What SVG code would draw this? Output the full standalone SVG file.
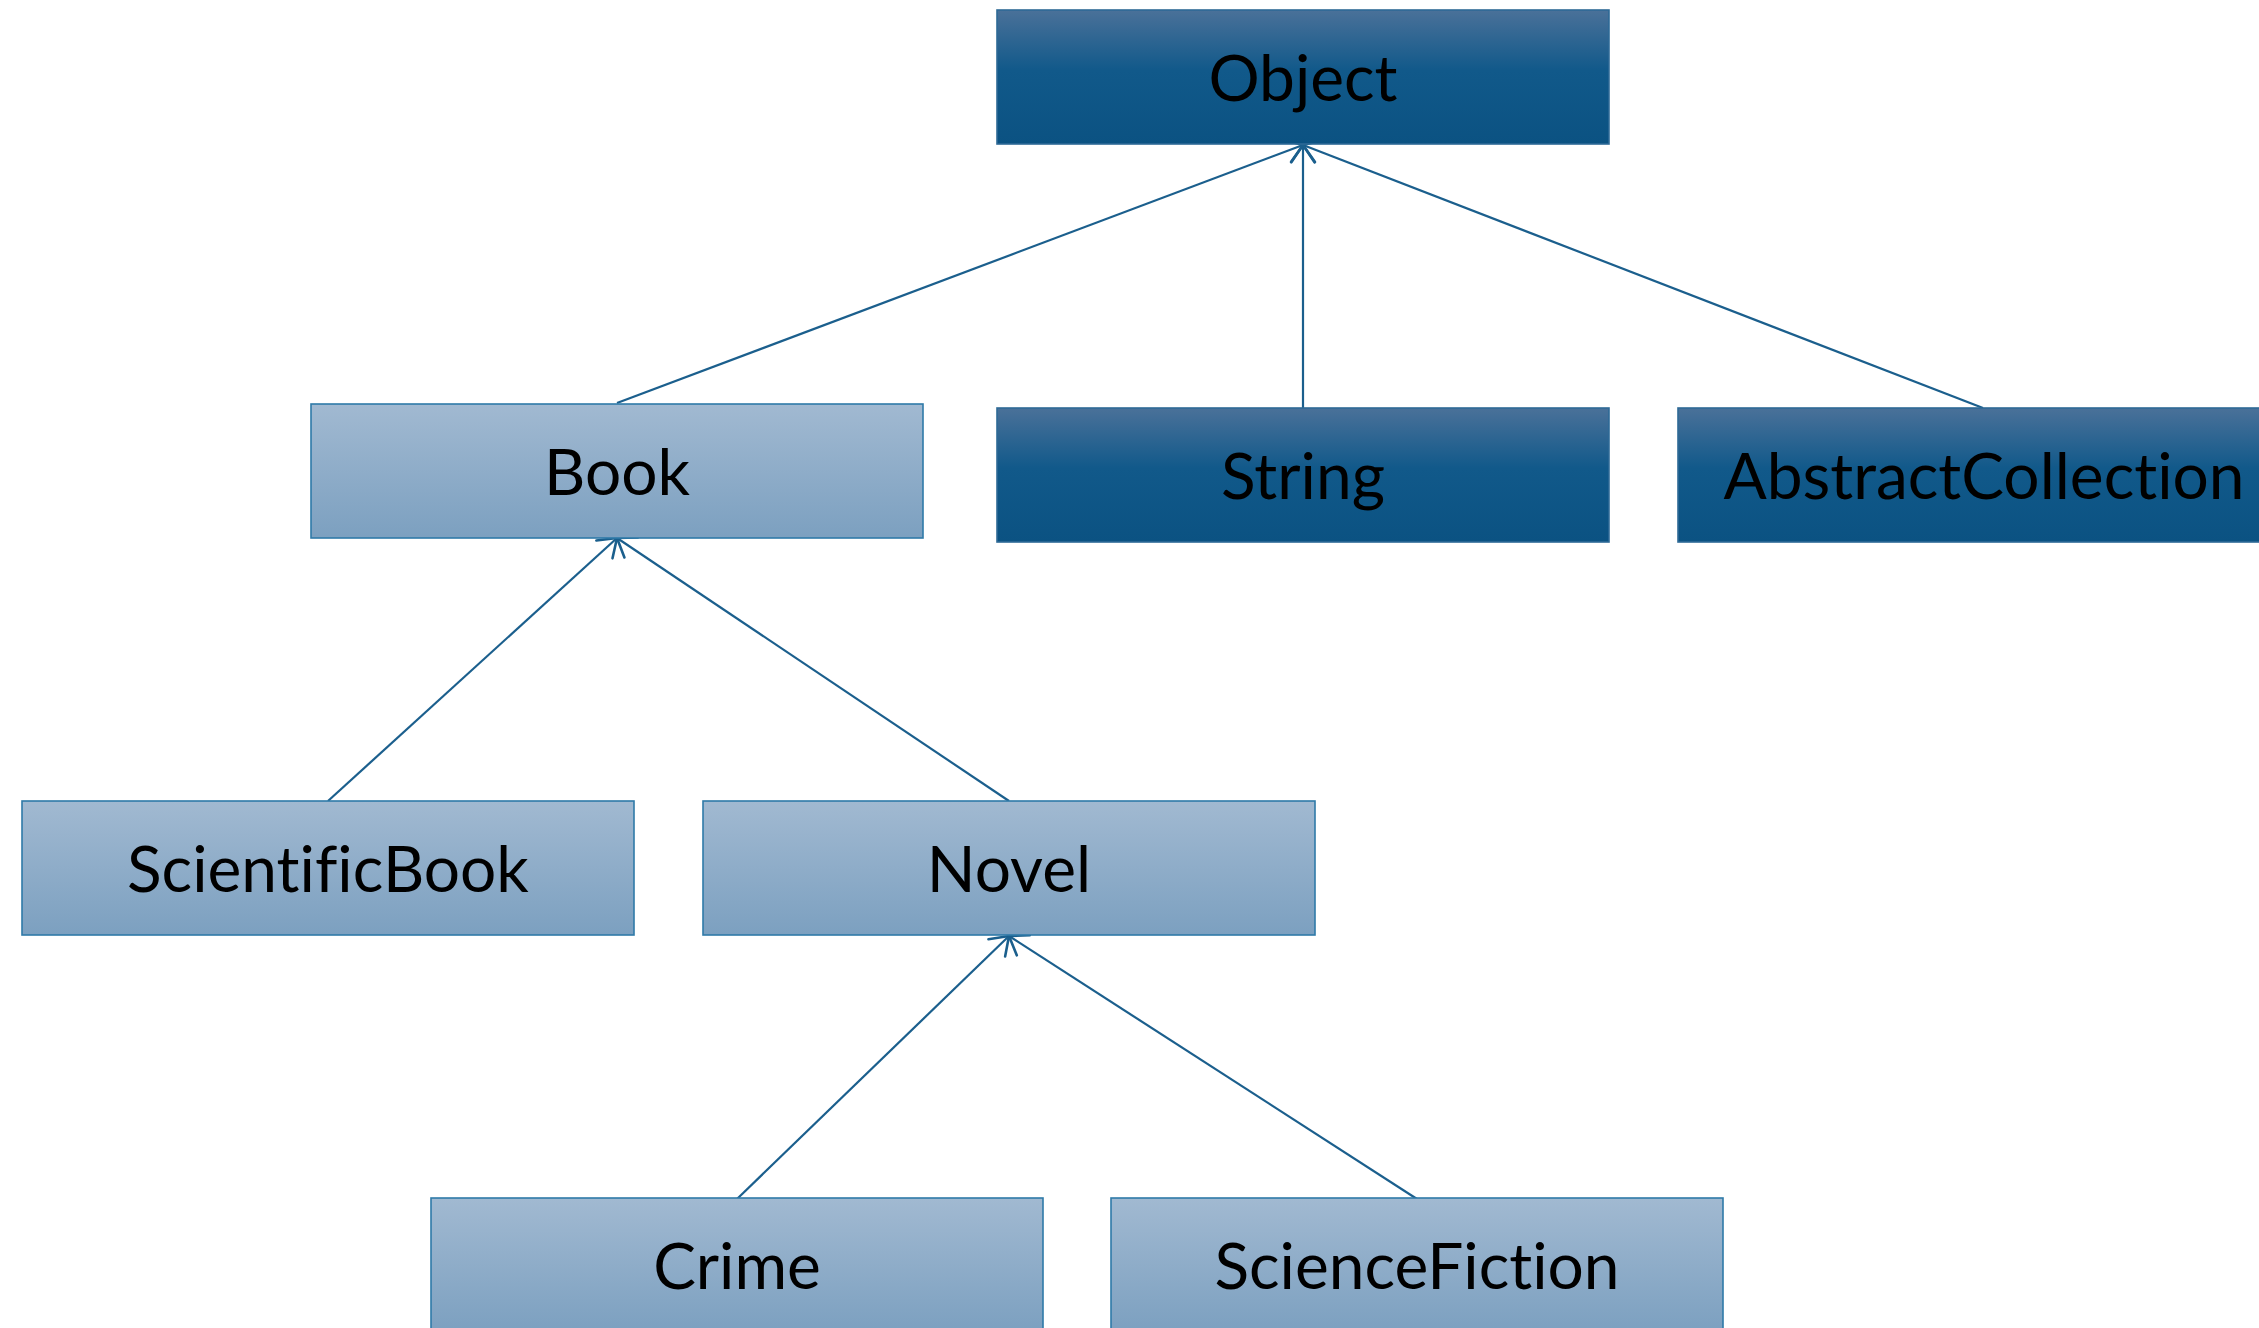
<svg xmlns="http://www.w3.org/2000/svg" width="2259" height="1328" viewBox="0 0 2259 1328">
  <style>
    .box { stroke-width: 1.6; }
    .dark { fill: url(#gDark); stroke: #2e6a96; }
    .light { fill: url(#gLight); stroke: #2f7aa8; }
    .label { font-family: Lato, "Liberation Sans", sans-serif; font-size: 64px; fill: #000; text-anchor: middle; font-variant-ligatures: none; font-feature-settings: "liga" 0; }
    .edge { stroke: #1b5f8d; stroke-width: 2.2; fill: none; marker-end: url(#openArrow); }
  </style>
  <defs>
    <linearGradient id="gDark" x1="0" y1="0" x2="0" y2="1">
      <stop offset="0" stop-color="#4a7199"/>
      <stop offset="0.45" stop-color="#11598a"/>
      <stop offset="1" stop-color="#0b5282"/>
    </linearGradient>
    <linearGradient id="gLight" x1="0" y1="0" x2="0" y2="1">
      <stop offset="0" stop-color="#a1b9d1"/>
      <stop offset="1" stop-color="#7ca0c0"/>
    </linearGradient>
    <marker id="openArrow" markerUnits="userSpaceOnUse" markerWidth="40" markerHeight="40" viewBox="-20 -20 40 40" refX="0" refY="0" orient="auto" overflow="visible">
      <path d="M-17,-12 L0,0 L-17,12" fill="none" stroke="#1b5f8d" stroke-width="2.6" stroke-linecap="round"/>
    </marker>
  </defs>

  <!-- inheritance connectors: child top-centre to parent bottom-centre -->
  <g id="connectors">
    <line class="edge" x1="617" y1="403" x2="1303" y2="145"/>
    <line class="edge" x1="1303" y1="408" x2="1303" y2="145"/>
    <line class="edge" x1="1983" y1="408" x2="1303" y2="145"/>
    <line class="edge" x1="328" y1="801" x2="617" y2="538"/>
    <line class="edge" x1="1009" y1="801" x2="617" y2="538"/>
    <line class="edge" x1="737" y1="1199" x2="1009" y2="936"/>
    <line class="edge" x1="1417" y1="1199" x2="1009" y2="936"/>
  </g>

  <g id="node-object">
    <rect class="box dark" x="997" y="10" width="612" height="134"/>
    <text class="label" x="1303" y="101">Object</text>
  </g>
  <g id="node-book">
    <rect class="box light" x="311" y="404" width="612" height="134"/>
    <text class="label" x="617" y="495">Book</text>
  </g>
  <g id="node-string">
    <rect class="box dark" x="997" y="408" width="612" height="134"/>
    <text class="label" x="1303" y="499">String</text>
  </g>
  <g id="node-abstractcollection">
    <rect class="box dark" x="1678" y="408" width="612" height="134"/>
    <text class="label" x="1984" y="499">AbstractCollection</text>
  </g>
  <g id="node-scientificbook">
    <rect class="box light" x="22" y="801" width="612" height="134"/>
    <text class="label" x="328" y="892">ScientificBook</text>
  </g>
  <g id="node-novel">
    <rect class="box light" x="703" y="801" width="612" height="134"/>
    <text class="label" x="1009" y="892">Novel</text>
  </g>
  <g id="node-crime">
    <rect class="box light" x="431" y="1198" width="612" height="134"/>
    <text class="label" x="737" y="1289">Crime</text>
  </g>
  <g id="node-sciencefiction">
    <rect class="box light" x="1111" y="1198" width="612" height="134"/>
    <text class="label" x="1417" y="1289">ScienceFiction</text>
  </g>
</svg>
